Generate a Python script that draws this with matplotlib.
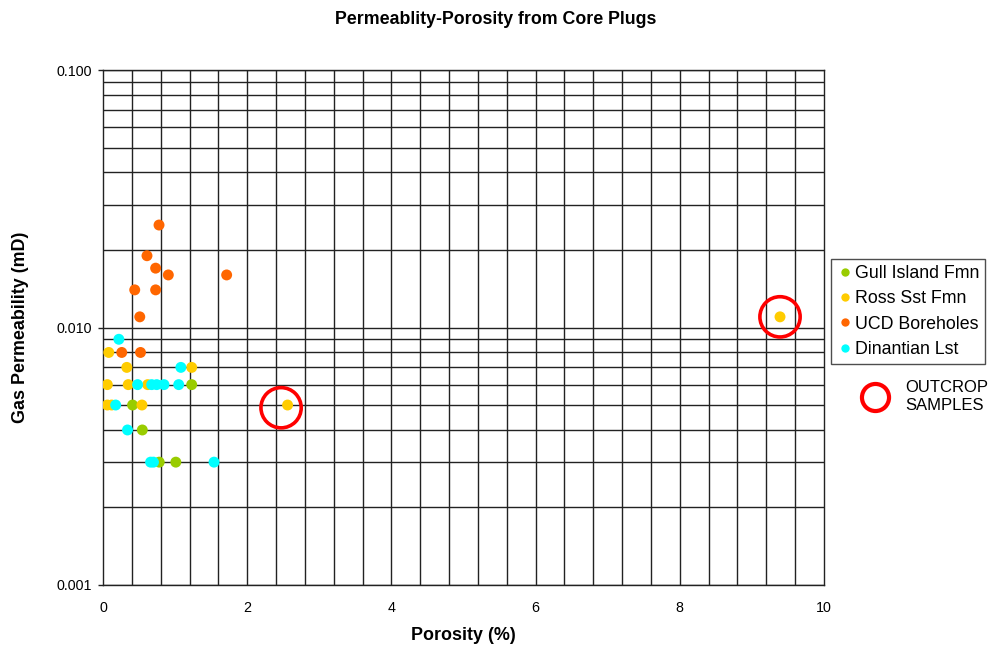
import matplotlib
matplotlib.use("Agg")
import matplotlib.pyplot as plt
from matplotlib.ticker import NullFormatter
from matplotlib.lines import Line2D

plt.rcParams["font.family"] = ["Liberation Sans", "DejaVu Sans"]

# Data (porosity %, gas permeability mD)
gull_x = [0.41, 0.545, 0.78, 1.01, 1.23]
gull_y = [0.005, 0.004, 0.003, 0.003, 0.006]

ross_x = [0.08, 0.33, 1.23, 0.06, 0.35, 0.62, 0.06, 0.12, 0.54, 2.56, 9.39]
ross_y = [0.008, 0.007, 0.007, 0.006, 0.006, 0.006, 0.005, 0.005, 0.005, 0.005, 0.011]

ucd_x = [0.777, 0.61, 0.73, 0.906, 1.715, 0.44, 0.73, 0.51, 0.26, 0.52]
ucd_y = [0.025, 0.019, 0.017, 0.016, 0.016, 0.014, 0.014, 0.011, 0.008, 0.008]

din_x = [0.22, 1.08, 0.48, 0.675, 0.745, 0.846, 1.05, 0.176, 0.34, 0.66, 0.70, 1.54]
din_y = [0.009, 0.007, 0.006, 0.006, 0.006, 0.006, 0.006, 0.005, 0.004, 0.003, 0.003, 0.003]

# Outcrop sample highlight circles
outcrop_x = [2.47, 9.39]
outcrop_y = [0.00488, 0.0110]

series = [
    ("Gull Island Fmn", gull_x, gull_y, "#99CC00"),
    ("Ross Sst Fmn", ross_x, ross_y, "#FFCC00"),
    ("UCD Boreholes", ucd_x, ucd_y, "#FF6600"),
    ("Dinantian Lst", din_x, din_y, "#00FFFF"),
]

fig = plt.figure(figsize=(9.91, 6.49), dpi=100)
ax = fig.add_axes([103/991, 1-585/649, (824-103)/991, (585-70)/649])

ax.set_xlim(0, 10)
ax.set_yscale("log")
ax.set_ylim(0.001, 0.1)

# grid
for xv in [i*0.4 for i in range(1, 25)]:
    ax.axvline(xv, color="#222222", lw=1.0, zorder=1)
minor_vals = [m*10.0**e for e in (-3, -2) for m in range(1, 10)] + [0.1]
for yv in minor_vals:
    ax.axhline(yv, color="#222222", lw=1.0, zorder=1)

handles = []
for name, xs, ys, c in series:
    ax.scatter(xs, ys, s=62, color=c, edgecolors="none", zorder=3)
    handles.append(Line2D([], [], marker="o", linestyle="none", markersize=6,
                          markerfacecolor=c, markeredgecolor="none", label=name))

ax.scatter(outcrop_x, outcrop_y, s=840, facecolors="none", edgecolors="#FF0000",
           linewidths=2.6, zorder=4)

ax.set_xticks([0, 2, 4, 6, 8, 10])
ax.set_xticklabels(["0", "2", "4", "6", "8", "10"], fontsize=10.3)
ax.set_yticks([0.001, 0.01, 0.1])
ax.set_yticklabels(["0.001", "0.010", "0.100"], fontsize=10.3)
ax.yaxis.set_minor_formatter(NullFormatter())
ax.tick_params(axis="y", which="minor", length=0)
ax.tick_params(axis="y", which="major", length=3.6, width=1, color="#222222", pad=4)
ax.tick_params(axis="x", which="major", length=0, pad=11.5)

for s in ax.spines.values():
    s.set_color("#222222")
    s.set_linewidth(1.0)

ax.set_xlabel("Porosity (%)", fontsize=12.9, fontweight="bold", labelpad=9)
ax.set_ylabel("Gas Permeability (mD)", fontsize=12.9, fontweight="bold", labelpad=20)
fig.text(0.5, 1-20/649, "Permeablity-Porosity from Core Plugs", ha="center", va="center",
         fontsize=12.8, fontweight="bold")

leg = fig.legend(handles=handles, loc="upper left", bbox_to_anchor=(831/991, 1-259/649),
                 fontsize=12.8, frameon=True, fancybox=False, edgecolor="#222222",
                 handletextpad=0.1, borderpad=0.33, labelspacing=0.47,
                 handlelength=0.9, borderaxespad=0)
leg.get_frame().set_linewidth(1.0)

# outcrop key
fig.add_artist(Line2D([875/991], [1-396.5/649], marker="o", markersize=19.5,
                      markerfacecolor="none", markeredgecolor="#FF0000",
                      markeredgewidth=3.0, linestyle="none"))
fig.text(905/991, 1-396.5/649, "OUTCROP\nSAMPLES", fontsize=12, va="center", ha="left",
         linespacing=1.2)

fig.savefig("out.png", dpi=100)
